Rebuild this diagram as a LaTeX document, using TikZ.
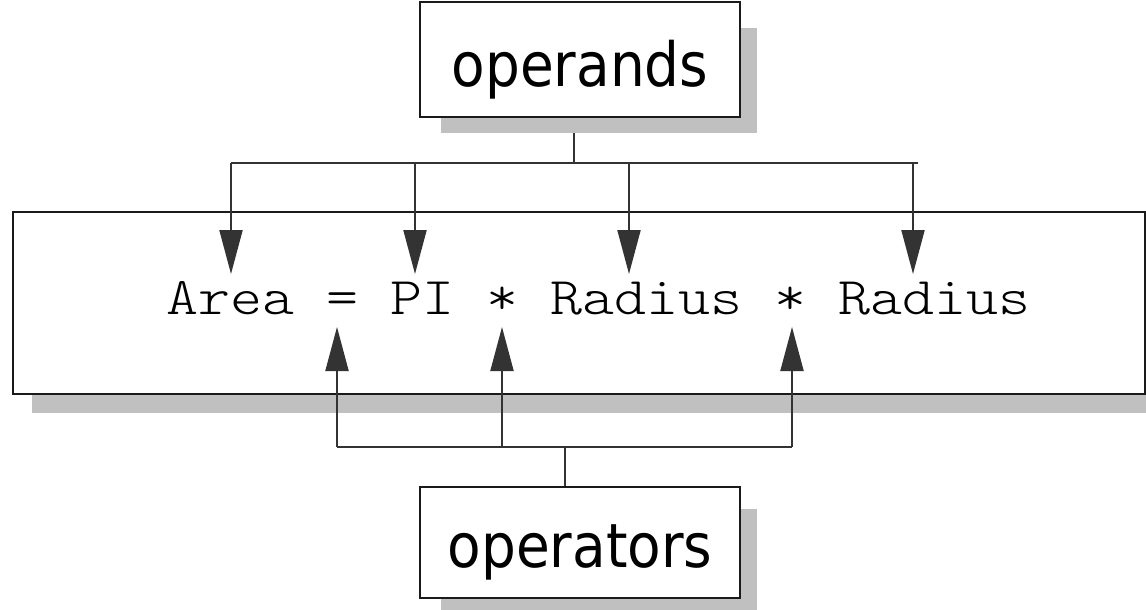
\documentclass[tikz,border=0pt]{standalone}
\usepackage{fontspec}
\usetikzlibrary{arrows.meta}
\newfontfamily\labelfont{DejaVu Sans Condensed}
\newfontfamily\codefont[FakeStretch=1.15]{Latin Modern Mono Light}
\definecolor{shadowgray}{HTML}{C0C0C0}
\definecolor{linegray}{HTML}{333333}
\definecolor{boxline}{HTML}{1A1A1A}
\tikzset{
  shadowbox/.style={fill=shadowgray, draw=none, inner sep=0pt},
  labelbox/.style={draw=boxline, line width=2pt, fill=white, inner sep=0pt,
    minimum width=320pt, font=\labelfont\fontsize{61}{61}\selectfont},
  codebox/.style={draw=boxline, line width=2pt, fill=white, inner sep=0pt,
    minimum width=1132pt, minimum height=182pt},
  conn/.style={draw=linegray, line width=2pt},
  arr/.style={conn, -{Triangle[length=44pt,width=23pt]}, color=linegray},
}
\begin{document}
\begin{tikzpicture}[x=1pt,y=-1pt]
\useasboundingbox (0,0) rectangle (1146,610);
\begin{scope}
\clip (0,0) rectangle (1146,610);
% shadows
\node[shadowbox, minimum width=316pt, minimum height=105pt] (opsh) at (599,80.5) {};
\node[shadowbox, minimum width=1150pt, minimum height=40pt] (codesh) at (607,393) {};
\node[shadowbox, minimum width=316pt, minimum height=110pt] (orsh) at (599,564) {};
\end{scope}
% boxes
\node[labelbox, minimum height=115pt, text height=55pt, text depth=0pt] (operands) at (580,59.5) {operands};
\node[codebox] (code) at (579,303) {};
\node[anchor=base west, inner sep=0pt, font=\codefont\fontsize{53}{53}\selectfont] (expr) at (166,314) {Area = PI * Radius * Radius};
\node[labelbox, minimum height=111pt, text height=49pt, text depth=0pt] (operators) at (580,542.5) {operators};
% junction coordinates (top)
\coordinate (opstem) at (574,133);
\coordinate (jtop) at (574,163);
\coordinate (jL) at (231,163);
\coordinate (jR) at (918,163);
\coordinate (j1) at (231,163);
\coordinate (j2) at (415,163);
\coordinate (j3) at (629,163);
\coordinate (j4) at (913,163);
\coordinate (t1) at (231,274);
\coordinate (t2) at (415,274);
\coordinate (t3) at (629,274);
\coordinate (t4) at (913,274);
% junction coordinates (bottom)
\coordinate (bjunc) at (565,447);
\coordinate (bL) at (337,447);
\coordinate (bR) at (792,447);
\coordinate (b1) at (337,447);
\coordinate (b2) at (502,447);
\coordinate (b3) at (792,447);
\coordinate (u1) at (337,327);
\coordinate (u2) at (502,327);
\coordinate (u3) at (792,327);
% operand connectors
\draw[conn] (opstem) -- (jtop);
\draw[conn] (jL) -- (jR);
\draw[arr] (j1) -- (t1);
\draw[arr] (j2) -- (t2);
\draw[arr] (j3) -- (t3);
\draw[arr] (j4) -- (t4);
% operator connectors
\draw[conn] (operators.north -| bjunc) -- (bjunc);
\draw[conn] (bL) -- (bR);
\draw[arr] (b1) -- (u1);
\draw[arr] (b2) -- (u2);
\draw[arr] (b3) -- (u3);
\end{tikzpicture}
\end{document}
